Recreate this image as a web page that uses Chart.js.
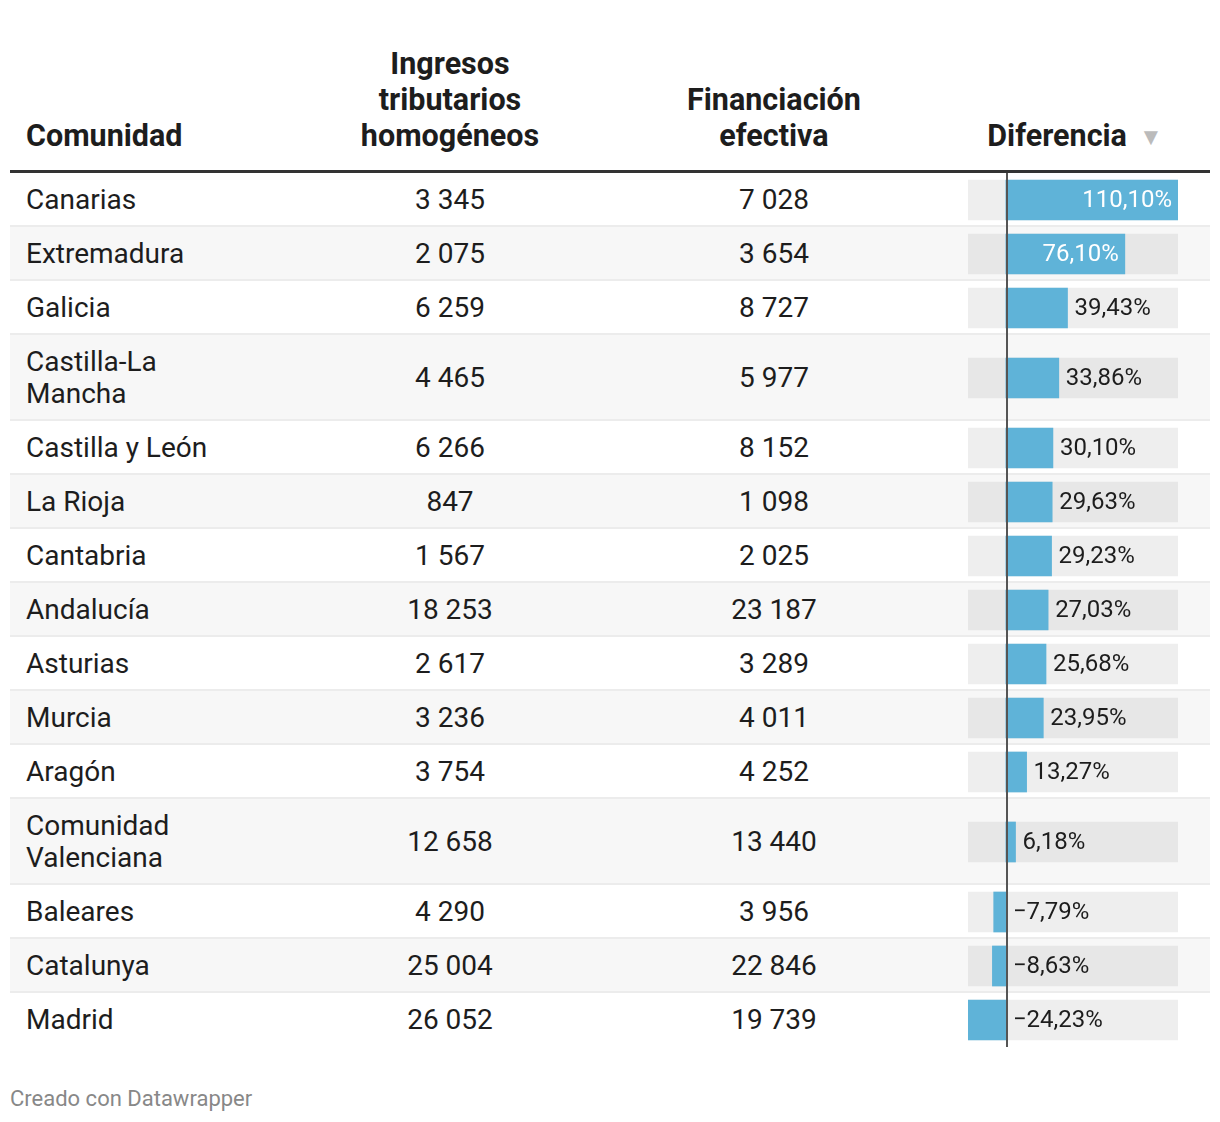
<!DOCTYPE html>
<html>
<head>
<meta charset="utf-8">
<script src="https://cdn.jsdelivr.net/npm/chart.js"></script>
<style>
  body { margin: 0; background: #fff; font-family: Roboto, sans-serif; color: #1d1d1d; }
  #wrap { position: absolute; left: 10px; top: 46px; width: 1200px; }
  table { border-collapse: separate; border-spacing: 0; width: 1200px; table-layout: fixed; }
  th { font-weight: 700; font-size: 30.5px; line-height: 36px; vertical-align: bottom; padding: 0 0 16px; border-bottom: 3px solid #333; text-align: center; color: #1d1d1d; }
  th.name { text-align: left; padding-left: 16px; }
  th.dif { padding-left: 4px; }
  th .arrow { color: #bbb; font-size: 24px; line-height: 20px; margin-left: 12px; position: relative; top: -1px; }
  td { font-size: 28px; line-height: 32px; padding: 11px 0 9px; border-bottom: 2px solid #ececec; vertical-align: middle; text-align: center; }
  td.name { text-align: left; padding-left: 16px; }
  td.name div { max-width: 215px; }
  td.bar { position: relative; padding: 0; }
  td.bar div { position: absolute; left: 32px; right: 32px; top: 0; bottom: -2px; }
  tr.odd td { background: #f7f7f7; }
  tbody tr:last-child td { border-bottom: none; }
  #foot { position: absolute; left: 10px; top: 1086px; font-size: 22px; color: #888; }
</style>
</head>
<body>
<div id="wrap">
  <table>
    <colgroup><col style="width:278px"><col style="width:324px"><col style="width:324px"><col style="width:274px"></colgroup>
    <thead>
      <tr>
        <th class="name">Comunidad</th>
        <th>Ingresos<br>tributarios<br>homogéneos</th>
        <th>Financiación<br>efectiva</th>
        <th class="dif">Diferencia<span class="arrow">▼</span></th>
      </tr>
    </thead>
    <tbody id="body"></tbody>
  </table>
</div>
<div id="foot">Creado con Datawrapper</div>
<script>
const comunidades = ["Canarias", "Extremadura", "Galicia", "Castilla-La Mancha", "Castilla y León", "La Rioja", "Cantabria", "Andalucía", "Asturias", "Murcia", "Aragón", "Comunidad Valenciana", "Baleares", "Catalunya", "Madrid"];
const ingresos = [3345, 2075, 6259, 4465, 6266, 847, 1567, 18253, 2617, 3236, 3754, 12658, 4290, 25004, 26052];
const financiacion = [7028, 3654, 8727, 5977, 8152, 1098, 2025, 23187, 3289, 4011, 4252, 13440, 3956, 22846, 19739];
const diferencia = [110.10, 76.10, 39.43, 33.86, 30.10, 29.63, 29.23, 27.03, 25.68, 23.95, 13.27, 6.18, -7.79, -8.63, -24.23];

const xMin = Math.min(...diferencia);
const xMax = Math.max(...diferencia);

function fmtNum(v) {
  return String(v).replace(/\B(?=(\d{3})+(?!\d))/g, ' ');
}
function fmtPct(v) {
  var s = Math.abs(v).toFixed(2).replace('.', ',') + '%';
  return v < 0 ? '\u2212' + s : s;
}

// vertical zero line, drawn over the full cell height so rows join up
const zeroLine = {
  id: 'zeroLine',
  afterDraw(chart) {
    const ctx = chart.ctx;
    const x = Math.round(chart.scales.x.getPixelForValue(0)) + 1;
    ctx.save();
    ctx.strokeStyle = '#555';
    ctx.lineWidth = 2;
    ctx.beginPath();
    ctx.moveTo(x, 0);
    ctx.lineTo(x, chart.height);
    ctx.stroke();
    ctx.restore();
  }
};

const valueLabel = {
  id: 'valueLabel',
  afterDatasetsDraw(chart) {
    const ctx = chart.ctx;
    const bar = chart.getDatasetMeta(0).data[0];
    const v = chart.data.datasets[0].data[0];
    const txt = fmtPct(v);
    const zero = chart.scales.x.getPixelForValue(0);
    ctx.save();
    ctx.font = '24px Roboto';
    ctx.textBaseline = 'middle';
    const w = ctx.measureText(txt).width;
    const barW = Math.abs(bar.x - zero);
    if (v > 0 && barW > w + 14) {
      ctx.fillStyle = '#fff';
      ctx.textAlign = 'right';
      ctx.fillText(txt, bar.x - 6, bar.y + 1);
    } else {
      ctx.fillStyle = '#1d1d1d';
      ctx.textAlign = 'left';
      ctx.fillText(txt, Math.max(bar.x, zero) + 7, bar.y + 1);
    }
    ctx.restore();
  }
};

const tbody = document.getElementById('body');
comunidades.forEach(function (name, i) {
  const tr = document.createElement('tr');
  if (i % 2 === 1) tr.className = 'odd';
  tr.innerHTML = '<td class="name"><div>' + name + '</div></td>' +
    '<td>' + fmtNum(ingresos[i]) + '</td>' +
    '<td>' + fmtNum(financiacion[i]) + '</td>' +
    '<td class="bar"><div><canvas></canvas></div></td>';
  tbody.appendChild(tr);
});

document.querySelectorAll('td.bar canvas').forEach(function (cv, i) {
  new Chart(cv, {
    type: 'bar',
    data: {
      labels: [comunidades[i]],
      datasets: [
        { data: [diferencia[i]], backgroundColor: '#5fb3d8', order: 1 },
        { data: [[xMin, xMax]], backgroundColor: i % 2 === 1 ? '#e7e7e7' : '#eeeeee', order: 2 }
      ]
    },
    options: {
      indexAxis: 'y',
      responsive: true,
      maintainAspectRatio: false,
      animation: false,
      events: [],
      datasets: { bar: { grouped: false, barThickness: 40, borderWidth: 0 } },
      layout: { padding: 0 },
      plugins: { legend: { display: false }, tooltip: { enabled: false } },
      scales: {
        x: { type: 'linear', min: xMin, max: xMax, display: false },
        y: { display: false }
      }
    },
    plugins: [zeroLine, valueLabel]
  });
});
</script>
</body>
</html>
